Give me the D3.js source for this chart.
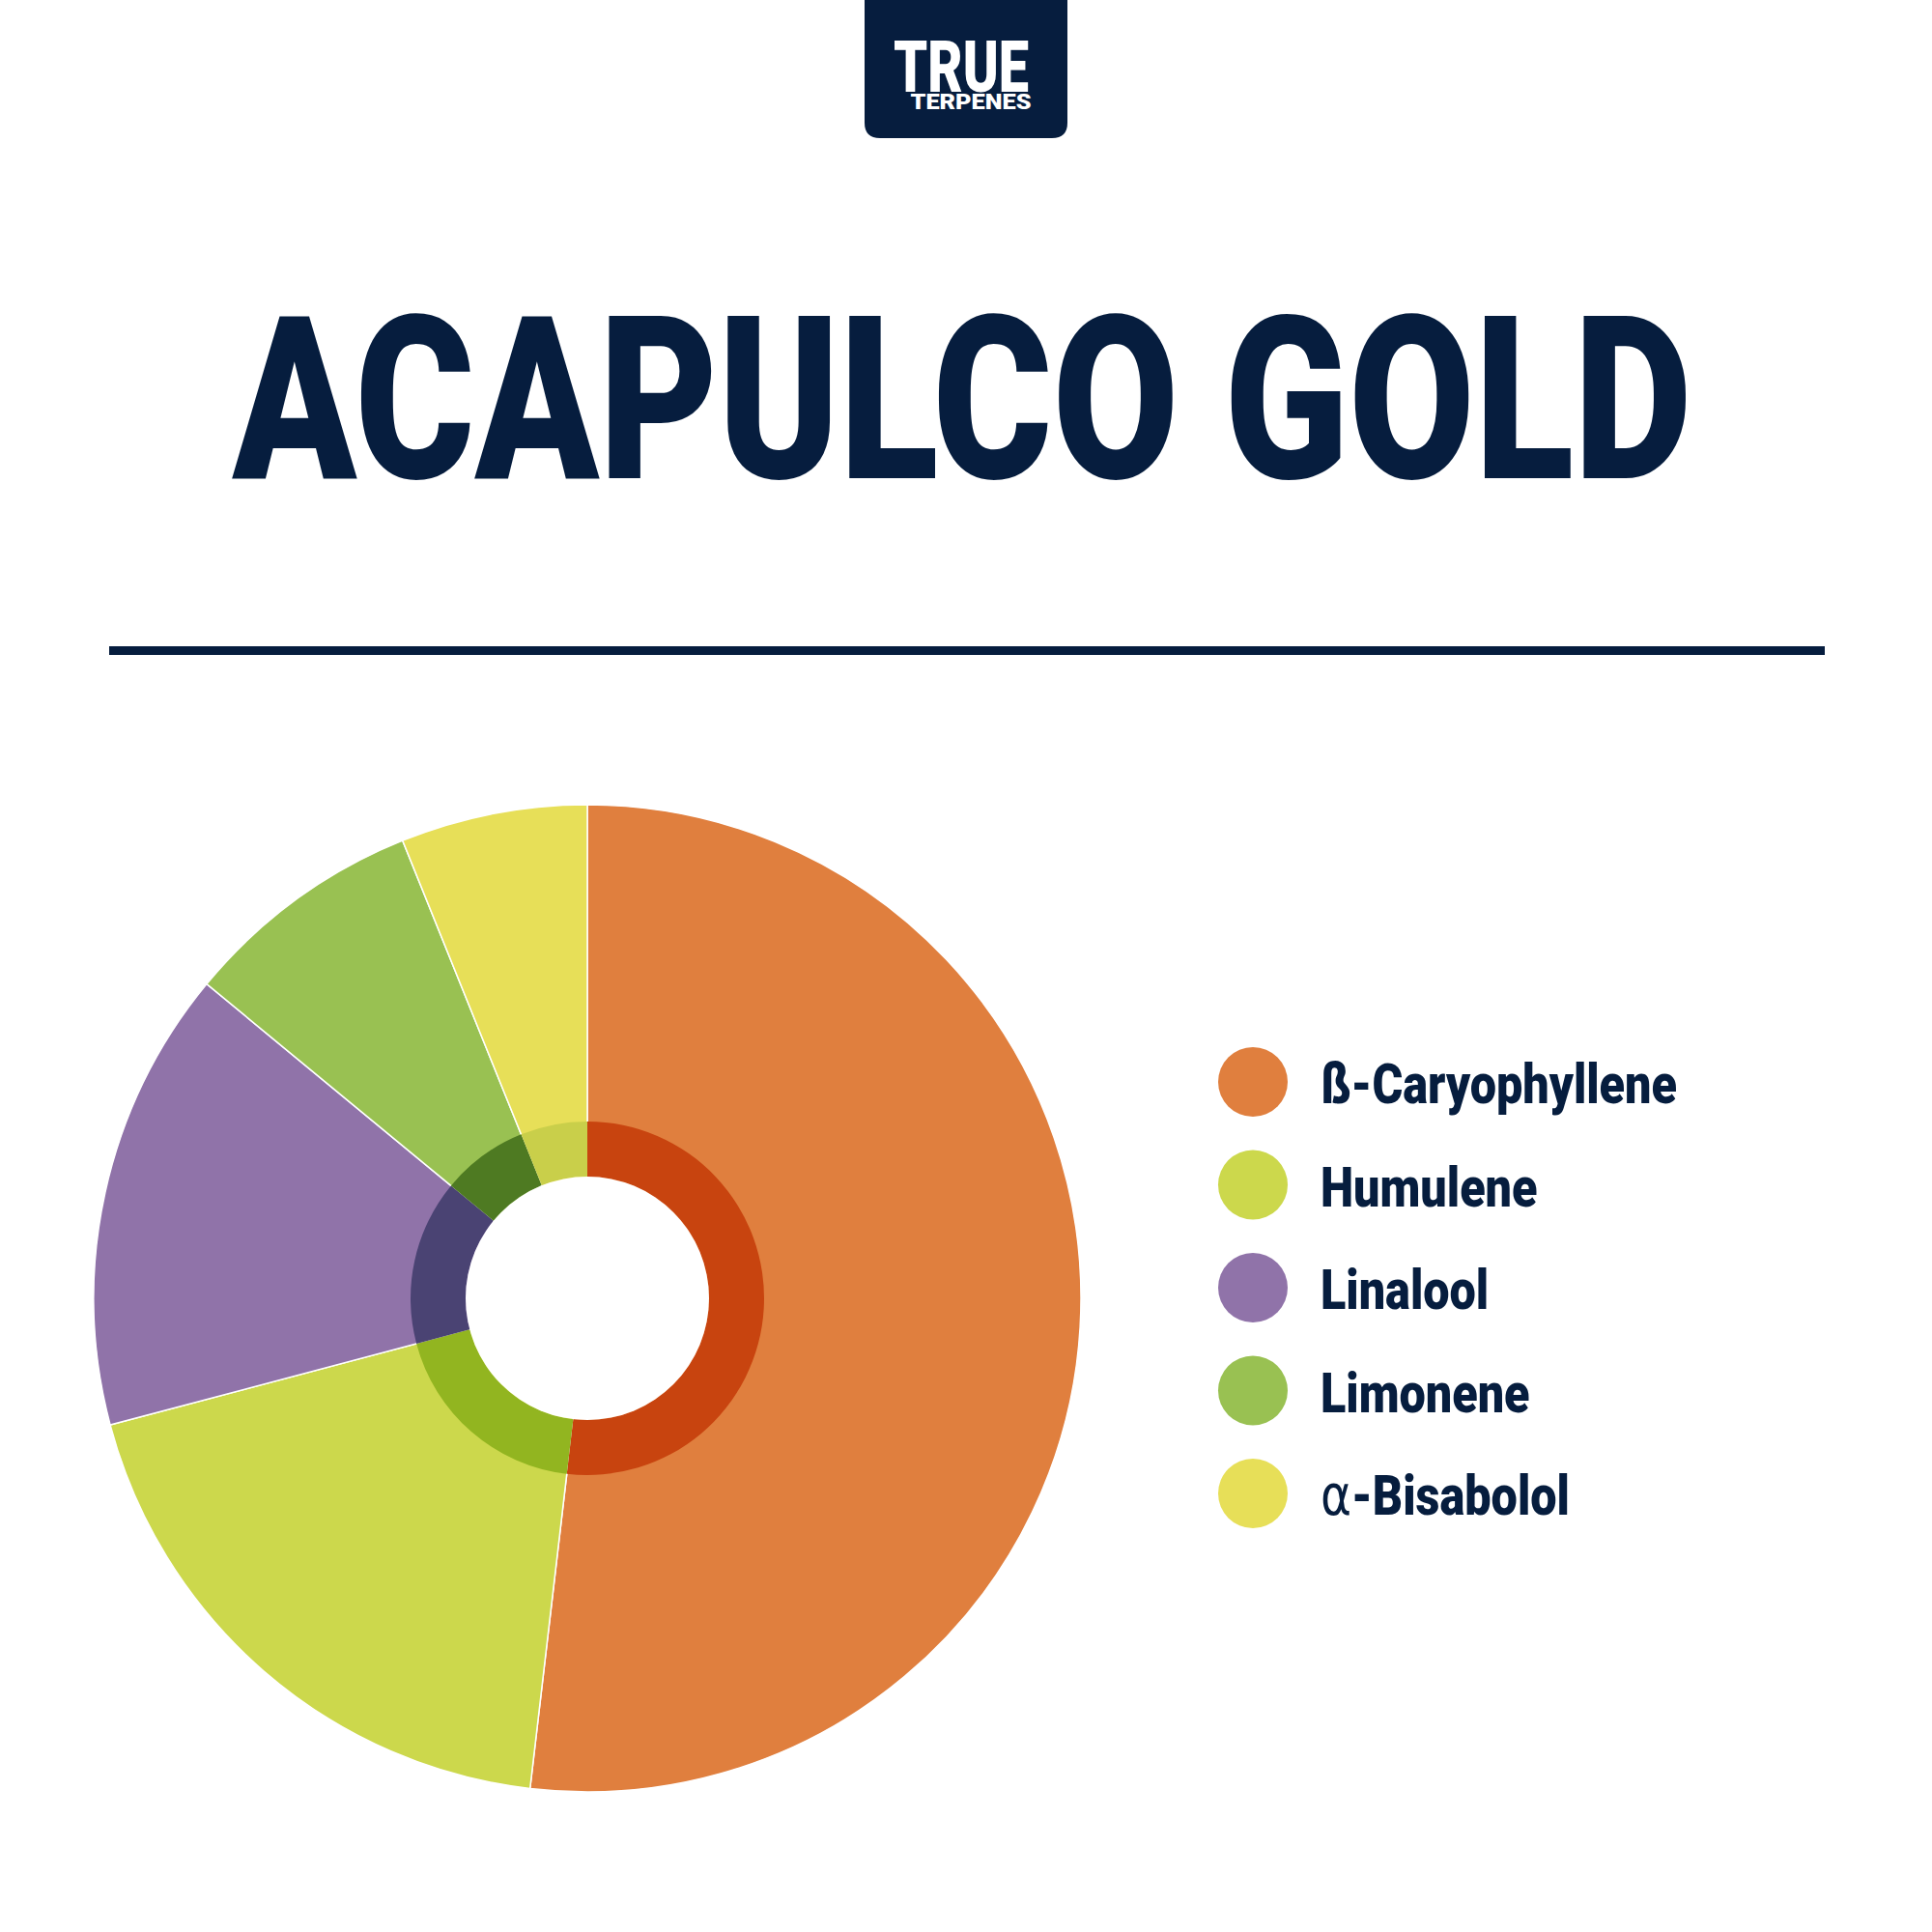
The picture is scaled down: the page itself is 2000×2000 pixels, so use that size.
<!DOCTYPE html>
<html>
<head>
<meta charset="utf-8">
<script src="https://cdn.jsdelivr.net/npm/d3@7"></script>
<style>
html,body{margin:0;padding:0;background:#fff;}
svg{display:block;}
</style>
</head>
<body>
<svg id="chart" width="2000" height="2000"></svg>
<script>
// ---- data ----
const title = "ACAPULCO GOLD";
const brandTop = "TRUE";
const brandBottom = "TERPENES";
const terpenes = ["ß-Caryophyllene", "Humulene", "Linalool", "Limonene", "α-Bisabolol"];
const shares = [51.8, 19.0, 15.1, 7.9, 6.1];
const outerColors = ["#E07F3E", "#CCD84C", "#9073A9", "#99C152", "#E7DF58"];
const innerColors = ["#C8440F", "#92B520", "#4A4373", "#4E7A22", "#C9CF4A"];

const navy = "#061D3E";
const font = "Roboto, 'DejaVu Sans', sans-serif";
const svg = d3.select("#chart");

// fit a text horizontally to a target width by scaling
function fitX(sel, x, y, width, anchor) {
  const w = sel.node().getComputedTextLength();
  const s = width / w;
  sel.attr("x", 0).attr("y", 0).attr("text-anchor", anchor || "middle")
     .attr("transform", `translate(${x},${y}) scale(${s},1)`);
}

// ---- logo ----
const lx0 = 895, lx1 = 1105, ly1 = 143, lr = 16;
svg.append("path")
  .attr("d", `M${lx0},0 H${lx1} V${ly1 - lr} Q${lx1},${ly1} ${lx1 - lr},${ly1} H${lx0 + lr} Q${lx0},${ly1} ${lx0},${ly1 - lr} Z`)
  .attr("fill", navy);
const logo = svg.append("text")
  .attr("font-family", font).attr("font-weight", 900)
  .attr("fill", "#fff").attr("text-anchor", "middle");
logo.append("tspan")
  .attr("x", 995).attr("y", 95).attr("font-size", 74)
  .attr("textLength", 140).attr("lengthAdjust", "spacingAndGlyphs")
  .text(brandTop);
logo.append("tspan")
  .attr("x", 1005).attr("y", 113).attr("font-size", 22)
  .attr("textLength", 125).attr("lengthAdjust", "spacingAndGlyphs")
  .text(brandBottom);

// ---- title ----
const tt = svg.append("text")
  .attr("font-family", font).attr("font-weight", 900).attr("font-size", 236)
  .attr("fill", navy).text(title);
fitX(tt, 996, 495, 1511);

// ---- rule ----
svg.append("rect")
  .attr("x", 113).attr("y", 669).attr("width", 1776).attr("height", 9)
  .attr("fill", navy);

// ---- pie ----
const cx = 608, cy = 1344;
const pie = d3.pie().sort(null).value(d => d)(shares);
const outerArc = d3.arc().innerRadius(0).outerRadius(511);
const innerArc = d3.arc().innerRadius(126).outerRadius(183);
const g = svg.append("g").attr("transform", `translate(${cx},${cy})`);
g.selectAll("path.outer").data(pie).join("path")
  .attr("class", "outer")
  .attr("d", outerArc)
  .attr("fill", (d, i) => outerColors[i])
  .attr("stroke", "#fff").attr("stroke-width", 1.5);
g.selectAll("path.inner").data(pie).join("path")
  .attr("class", "inner")
  .attr("d", innerArc)
  .attr("fill", (d, i) => innerColors[i]);
g.append("circle").attr("r", 126).attr("fill", "#fff");

// ---- legend ----
const legendY = d3.scalePoint().domain(terpenes).range([1120, 1546]);
const items = svg.append("g").selectAll("g.item").data(terpenes).join("g")
  .attr("class", "item")
  .attr("transform", d => `translate(0,${legendY(d)})`);
items.append("circle")
  .attr("cx", 1297).attr("cy", 0).attr("r", 36)
  .attr("fill", (d, i) => outerColors[i]);
const labels = items.append("text")
  .attr("font-family", font)
  .attr("font-weight", 900)
  .attr("font-size", 58)
  .attr("fill", navy);
labels.each(function(d) {
  const t = d3.select(this);
  if (d.startsWith("α")) {
    t.append("tspan").attr("font-weight", 400).attr("font-family", "'DejaVu Sans', sans-serif").text("α");
    t.append("tspan").text(d.slice(1));
  } else {
    t.text(d);
  }
});
// condense labels to the reference's narrow face
const sx = 369 / labels.nodes()[0].getComputedTextLength();
labels.attr("transform", `translate(1367,22) scale(${sx},1)`);
</script>
</body>
</html>
